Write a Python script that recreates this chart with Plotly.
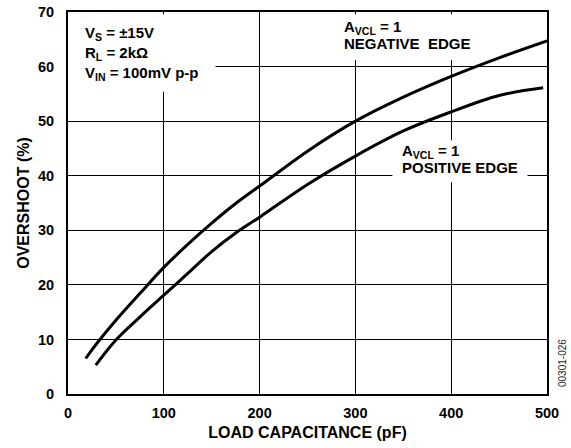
import plotly.graph_objects as go

# Negative edge (upper curve)
neg_x = [18.5, 25, 50, 75, 100, 125, 150, 175, 200, 250, 300, 350, 400, 450, 500]
neg_y = [6.5, 8.1, 13.5, 18.4, 23.2, 27.4, 31.3, 34.9, 38.1, 44.5, 50, 54.4, 58.2, 61.6, 64.7]

# Positive edge (lower curve)
pos_x = [29, 50, 75, 100, 125, 150, 175, 200, 250, 300, 350, 400, 450, 496]
pos_y = [5.3, 9.9, 14.1, 18.1, 22.1, 26.1, 29.5, 32.4, 38.4, 43.6, 48.2, 51.7, 54.7, 56.1]

x_ticks = [0, 100, 200, 300, 400, 500]
y_ticks = [0, 10, 20, 30, 40, 50, 60, 70]

FONT = "Liberation Sans, Arial, sans-serif"

fig = go.Figure()
for xs, ys in [(neg_x, neg_y), (pos_x, pos_y)]:
    fig.add_trace(go.Scatter(x=xs, y=ys, mode="lines",
                             line=dict(color="black", width=3, shape="spline", smoothing=1.0),
                             showlegend=False, hoverinfo="skip"))

# white boxes covering grid behind labels
boxes = [(0, 154, 55.4, 69.6), (283, 428, 61.2, 69.6), (338.6, 479.6, 38.8, 46.5)]
for x0, x1, y0, y1 in boxes:
    fig.add_shape(type="rect", x0=x0, x1=x1, y0=y0, y1=y1, xref="x", yref="y",
                  fillcolor="white", line=dict(width=0), layer="between")

bold = dict(family=FONT, size=15, color="black", weight="bold")
texts = [
    (15.3, 66.1, "V<sub>S</sub> = ±15V"),
    (15.3, 62.4, "R<sub>L</sub> = 2kΩ"),
    (15.3, 58.7, "V<sub>IN</sub> = 100mV p-p"),
    (286.5, 67.2, "A<sub>VCL</sub> = 1"),
    (286.5, 64.2, "NEGATIVE  EDGE"),
    (347, 44.5, "A<sub>VCL</sub> = 1"),
    (347, 41.5, "POSITIVE EDGE"),
]
for x, y, t in texts:
    fig.add_annotation(x=x, y=y, xref="x", yref="y", text=t, showarrow=False,
                       xanchor="left", yanchor="middle", font=bold)

fig.add_annotation(xref="paper", yref="paper",
                   x=(562 - 68) / (547 - 68), y=(394 - 363) / (394 - 12),
                   text="00301-026", showarrow=False, textangle=-90,
                   xanchor="center", yanchor="middle",
                   font=dict(family=FONT, size=10, color="#222"))

axis_common = dict(showgrid=True, gridcolor="black", gridwidth=1,
                   showline=True, linecolor="black", linewidth=2, mirror=True,
                   zeroline=False, ticks="", automargin=False,
                   tickfont=dict(family=FONT, size=14.5, color="black", weight="bold"))

fig.update_xaxes(range=[0, 500], tickvals=x_ticks, ticktext=[str(v) for v in x_ticks],
                 title=dict(text="LOAD CAPACITANCE (pF)", standoff=6,
                            font=dict(family=FONT, size=16, color="black", weight="bold")),
                 ticklabelstandoff=5, **axis_common)
fig.update_yaxes(range=[0, 70], tickvals=y_ticks, ticktext=[str(v) for v in y_ticks],
                 title=dict(text="OVERSHOOT (%)", standoff=4,
                            font=dict(family=FONT, size=16, color="black", weight="bold")),
                 ticklabelstandoff=9, **axis_common)

fig.update_layout(width=571, height=448, autosize=False,
                  margin=dict(l=68, r=24, t=12, b=54, pad=0),
                  paper_bgcolor="white", plot_bgcolor="white")

fig.write_html("out.html", config={"displayModeBar": False},
               post_script="document.body.style.margin='0px';")
